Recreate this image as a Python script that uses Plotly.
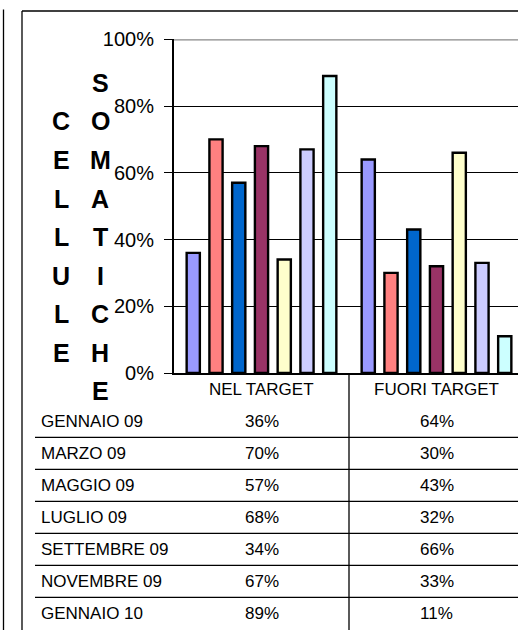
import plotly.graph_objects as go

# Data
categories = ["NEL TARGET", "FUORI TARGET"]
months = ["GENNAIO 09", "MARZO 09", "MAGGIO 09", "LUGLIO 09",
          "SETTEMBRE 09", "NOVEMBRE 09", "GENNAIO 10"]
nel_target = [36, 70, 57, 68, 34, 67, 89]
fuori_target = [64, 30, 43, 32, 66, 33, 11]
colors = ["#9999FF", "#FF8080", "#0066CC", "#993366",
          "#FFFFCC", "#CCCCFF", "#CCFFFF"]
y_ticks = [0, 20, 40, 60, 80, 100]
title_left = "CELLULE"
title_right = "SOMATICHE"

W, H = 518, 630
FONT = "Liberation Sans, Arial, sans-serif"


def px(x):
    return x / W


def py(y):
    return 1 - y / H


fig = go.Figure()
for m, a, b, c in zip(months, nel_target, fuori_target, colors):
    fig.add_trace(go.Bar(
        x=categories, y=[a, b], name=m,
        marker=dict(color=c, line=dict(color="black", width=2.4)),
        hoverinfo="x+y+name",
    ))

plot_left, plot_top, plot_bottom = 174, 39.3, 373
cat_w = 175.0
x_right = -0.5 + (W - plot_left) / cat_w

shapes = []
# outer frame edges
shapes.append(dict(type="line", xref="paper", yref="paper",
                   x0=px(3.5), x1=px(3.5), y0=py(9.5), y1=0,
                   line=dict(color="black", width=1.3)))
shapes.append(dict(type="line", xref="paper", yref="paper",
                   x0=px(22), x1=px(22), y0=py(11), y1=0,
                   line=dict(color="black", width=1.3)))
shapes.append(dict(type="line", xref="paper", yref="paper",
                   x0=px(22), x1=1, y0=py(11), y1=py(11),
                   line=dict(color="black", width=1.3)))
# top border of plot area
shapes.append(dict(type="line", xref="paper", yref="y",
                   x0=px(plot_left), x1=1, y0=100, y1=100,
                   line=dict(color="#888888", width=2.2)))
# category divider running through the data table
shapes.append(dict(type="line", xref="x", yref="paper",
                   x0=0.5, x1=0.5, y0=0, y1=py(plot_bottom),
                   line=dict(color="black", width=1.3)))
# data table row separators
row_h = 32
first_row_top = 405.3
for i in range(1, len(months)):
    yl = first_row_top + i * row_h
    shapes.append(dict(type="line", xref="paper", yref="paper",
                       x0=px(35), x1=1, y0=py(yl), y1=py(yl),
                       line=dict(color="black", width=1.3)))

annotations = []
# category labels
for cat in categories:
    annotations.append(dict(x=cat, y=py(389.5), xref="x", yref="paper",
                            text=cat, showarrow=False,
                            font=dict(size=17, color="black", family=FONT),
                            xanchor="center", yanchor="middle"))
# data table
for i, (m, a, b) in enumerate(zip(months, nel_target, fuori_target)):
    yc = py(first_row_top + i * row_h + 16.5)
    annotations.append(dict(x=px(39), y=yc, xref="paper", yref="paper",
                            text=m, showarrow=False,
                            font=dict(size=17, color="black", family=FONT),
                            xanchor="left", yanchor="middle"))
    for cat, v in zip(categories, (a, b)):
        annotations.append(dict(x=cat, y=yc, xref="x", yref="paper",
                                text=f"{v}%", showarrow=False,
                                font=dict(size=17, color="black", family=FONT),
                                xanchor="center", yanchor="middle"))
# stacked vertical axis title
step = 38.5
for i, ch in enumerate(title_left):
    annotations.append(dict(x=px(61), y=py(121.5 + i * step), xref="paper",
                            yref="paper", text=f"<b>{ch}</b>", showarrow=False,
                            font=dict(size=25, color="black", family=FONT),
                            xanchor="center", yanchor="middle"))
for i, ch in enumerate(title_right):
    annotations.append(dict(x=px(100), y=py(83.0 + i * step), xref="paper",
                            yref="paper", text=f"<b>{ch}</b>", showarrow=False,
                            font=dict(size=25, color="black", family=FONT),
                            xanchor="center", yanchor="middle"))

fig.update_layout(
    template="none",
    autosize=False,
    width=W, height=H,
    margin=dict(l=0, r=0, t=0, b=0, pad=0),
    paper_bgcolor="white", plot_bgcolor="white",
    showlegend=False,
    barmode="group", bargap=0.09, bargroupgap=0.42,
    font=dict(family=FONT, color="black"),
    xaxis=dict(domain=[px(plot_left), 1], range=[-0.5, x_right],
               showticklabels=False, ticks="", showgrid=False,
               showline=True, linecolor="black", linewidth=2,
               zeroline=False, fixedrange=True, automargin=False),
    yaxis=dict(domain=[py(plot_bottom), py(plot_top)], range=[0, 100],
               tickvals=y_ticks, ticktext=[f"{t}%" for t in y_ticks],
               ticks="outside", ticklen=8, tickcolor="black", tickwidth=1.3,
               tickfont=dict(size=20, color="black", family=FONT),
               ticklabelstandoff=6,
               showgrid=True, gridcolor="black", gridwidth=1,
               showline=True, linecolor="black", linewidth=2,
               zeroline=False, fixedrange=True, automargin=False),
    shapes=shapes,
    annotations=annotations,
)

fig.write_html("out.html", config={"responsive": False})
